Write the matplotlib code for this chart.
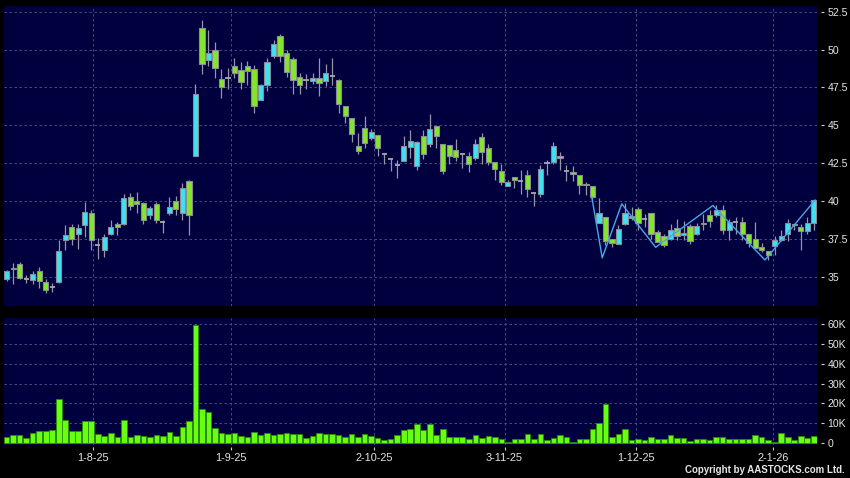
import matplotlib
matplotlib.use("Agg")
import matplotlib.pyplot as plt
import numpy as np

# ---------------- data ----------------
opens = [34.87, 35.50, 35.86, 34.87, 34.80, 35.40, 34.65, 34.32, 34.65, 37.40,
         38.28, 37.84, 38.44, 39.23, 37.07, 36.74, 37.84, 38.50, 38.50, 40.26,
         40.02, 39.89, 39.05, 39.82, 38.61, 39.20, 40.02, 39.23, 41.34, 43.00,
         51.45, 49.34, 50.00, 48.06, 48.13, 48.92, 48.68, 48.94, 48.74, 46.70,
         47.69, 49.56, 50.93, 49.78, 49.38, 48.19, 47.97, 47.91, 48.15, 47.93,
         48.28, 48.02, 46.30, 45.51, 43.61, 44.85, 44.18, 44.34, 43.13, 42.80,
         42.36, 42.64, 43.57, 42.31, 44.27, 43.79, 44.98, 43.79, 43.72, 43.39,
         43.08, 42.97, 42.86, 44.23, 43.52, 42.58, 41.98, 41.01, 41.59, 41.32,
         41.74, 40.53, 40.48, 42.51, 42.58, 42.85, 41.98, 41.92, 41.74, 41.05,
         40.99, 38.57, 38.94, 37.51, 37.18, 38.46, 38.90, 39.47, 38.83, 39.21,
         37.95, 37.66, 37.51, 38.22, 37.73, 38.33, 37.84, 38.47, 39.05, 39.05,
         39.43, 38.11, 38.61, 38.61, 37.84, 37.49, 36.96, 36.70, 37.00, 37.44,
         37.84, 38.40, 38.28, 38.02, 38.55]
highs = [35.46, 35.90, 36.00, 35.13, 35.37, 35.62, 34.87, 34.58, 37.44, 38.39,
         38.46, 38.46, 39.91, 39.38, 37.58, 37.80, 38.72, 38.61, 40.48, 40.53,
         40.62, 39.93, 39.65, 39.93, 38.72, 40.26, 40.31, 41.19, 41.41, 47.75,
         51.98, 51.32, 50.53, 48.74, 48.81, 49.47, 49.19, 49.25, 48.96, 47.75,
         49.47, 50.66, 51.01, 49.96, 49.52, 48.48, 48.37, 48.46, 49.47, 49.08,
         49.47, 48.08, 46.30, 45.51, 44.49, 45.59, 44.78, 44.34, 43.17, 42.80,
         42.69, 44.27, 44.71, 43.96, 44.67, 45.77, 44.98, 43.79, 43.72, 44.12,
         43.08, 43.24, 44.12, 44.49, 43.74, 42.58, 42.47, 41.37, 41.59, 42.03,
         42.03, 40.53, 42.36, 42.73, 43.90, 43.24, 42.36, 42.31, 41.74, 41.26,
         40.99, 40.22, 38.94, 37.51, 38.39, 39.87, 39.60, 39.60, 39.16, 39.21,
         38.06, 37.84, 38.50, 38.83, 38.68, 38.46, 38.55, 39.16, 39.43, 39.71,
         39.71, 38.83, 38.94, 38.94, 37.84, 38.63, 37.22, 36.70, 37.66, 38.06,
         38.83, 38.50, 38.50, 38.94, 40.09]
lows = [34.69, 34.54, 34.87, 34.58, 34.49, 34.27, 33.94, 33.96, 34.58, 36.74,
        37.07, 36.85, 37.62, 36.78, 36.19, 36.30, 37.73, 37.73, 38.39, 39.38,
        39.18, 38.50, 38.83, 38.55, 37.88, 39.05, 39.05, 38.77, 37.78, 43.00,
        48.37, 48.90, 48.15, 46.81, 47.42, 48.15, 47.42, 47.64, 45.81, 46.65,
        47.27, 49.47, 49.19, 48.19, 47.09, 47.05, 47.42, 47.75, 46.92, 47.58,
        47.64, 45.81, 45.15, 43.90, 43.13, 43.52, 44.01, 42.97, 42.47, 41.98,
        41.52, 42.64, 42.86, 42.03, 42.80, 43.57, 43.52, 41.81, 42.47, 42.64,
        42.20, 41.92, 42.73, 42.47, 42.36, 41.37, 41.04, 40.97, 40.88, 40.44,
        40.26, 39.67, 40.26, 41.70, 42.47, 42.03, 41.32, 41.32, 40.44, 40.37,
        40.04, 38.57, 37.07, 36.96, 37.18, 38.39, 38.72, 38.06, 38.28, 37.51,
        37.29, 36.96, 37.40, 37.40, 37.40, 37.14, 37.78, 38.06, 38.28, 38.94,
        37.84, 37.44, 37.80, 37.44, 36.96, 36.85, 36.63, 36.08, 36.41, 37.36,
        37.36, 38.06, 36.74, 37.84, 38.06]
closes = [35.40, 35.60, 34.93, 34.87, 35.15, 34.69, 34.10, 34.32, 36.70, 37.78,
          37.51, 38.22, 39.30, 37.40, 37.07, 37.64, 38.28, 38.28, 40.20, 39.65,
          39.78, 38.72, 39.56, 38.72, 38.61, 39.60, 39.49, 40.88, 39.10, 47.09,
          49.07, 49.80, 48.81, 47.53, 48.13, 48.48, 47.89, 48.57, 46.30, 47.69,
          49.21, 50.40, 49.56, 48.50, 47.97, 47.69, 47.97, 48.13, 47.82, 48.46,
          48.28, 46.43, 45.59, 44.45, 43.30, 43.85, 44.56, 43.52, 43.13, 42.80,
          42.36, 43.61, 43.96, 43.90, 43.13, 44.78, 44.32, 41.98, 42.95, 42.91,
          43.08, 42.47, 43.79, 43.24, 42.58, 42.14, 41.26, 41.26, 41.37, 41.32,
          40.81, 40.53, 42.14, 42.51, 43.66, 42.95, 41.98, 41.76, 41.04, 41.15,
          40.26, 39.23, 37.36, 37.22, 38.17, 39.21, 38.98, 38.55, 38.83, 37.80,
          37.29, 37.07, 38.11, 37.66, 37.88, 37.36, 38.33, 38.53, 38.68, 39.43,
          38.06, 38.61, 38.61, 37.84, 37.22, 36.92, 36.78, 36.41, 37.44, 37.66,
          38.55, 38.46, 38.00, 38.55, 40.04]
volumes_k = [3.0, 4.4, 4.4, 2.7, 5.0, 6.0, 6.2, 6.9, 22.3, 11.7,
             6.2, 6.0, 11.2, 11.2, 4.9, 3.5, 5.2, 3.4, 11.7, 3.2,
             4.2, 3.7, 3.2, 4.0, 3.5, 5.7, 3.7, 8.0, 11.4, 59.5,
             17.1, 15.7, 7.9, 5.2, 4.5, 5.0, 3.7, 3.4, 5.9, 4.2,
             5.0, 4.2, 4.7, 5.0, 4.7, 4.7, 2.5, 3.7, 5.2, 4.9,
             4.9, 4.2, 3.4, 4.5, 3.4, 4.7, 3.9, 2.7, 1.5, 2.3,
             4.4, 6.7, 7.4, 9.9, 6.7, 9.7, 4.2, 7.0, 3.0, 3.0,
             3.0, 2.3, 4.2, 2.7, 3.7, 3.4, 2.0, 0.8, 2.0, 2.3,
             4.5, 2.0, 4.5, 1.7, 2.5, 4.2, 3.0, 0.8, 2.0, 2.0,
             7.2, 10.1, 19.8, 3.4, 4.5, 7.0, 1.7, 2.0, 1.7, 3.4,
             2.0, 2.3, 4.0, 2.8, 2.8, 1.3, 2.3, 2.0, 1.7, 3.0,
             3.4, 2.3, 2.3, 2.3, 2.3, 4.4, 3.4, 1.7, 0.7, 5.4,
             3.0, 1.7, 3.7, 2.5, 3.7]

zigzag_idx = [89.9, 91.5, 94.5, 99.7, 108.5, 116.5, 124.2]
zigzag_price = [40.25, 36.24, 39.81, 36.94, 39.70, 36.10, 40.06]

date_tick_pos = [13.3, 34.4, 56.5, 76.5, 96.7, 117.7]
date_tick_labels = ["1-8-25", "1-9-25", "2-10-25", "3-11-25", "1-12-25", "2-1-26"]
price_ticks = [35, 37.5, 40, 42.5, 45, 47.5, 50, 52.5]
price_tick_labels = ["35", "37.5", "40", "42.5", "45", "47.5", "50", "52.5"]
vol_ticks = [0, 10000, 20000, 30000, 40000, 50000, 60000]
vol_tick_labels = ["0", "10K", "20K", "30K", "40K", "50K", "60K"]

# ---------------- style ----------------
BG_FIG = "#000000"
BG_AX = "#00003f"
CYAN = "#3de2f2"
GREEN = "#84e62a"
VOL_GREEN = "#66ff11"
EDGE = "#8c8c96"
WICK = "#9696a4"
GRID = "#55558c"
TXT = "#e6e6e6"

plt.rcParams["font.family"] = ["Liberation Sans", "DejaVu Sans"]

o = np.array(opens)
h = np.array(highs)
l = np.array(lows)
c = np.array(closes)
v = np.array(volumes_k) * 1000
x = np.arange(len(o))

fig = plt.figure(figsize=(8.5, 4.78), dpi=100, facecolor=BG_FIG)
ax = fig.add_axes([0.0047, 0.3598, 0.9565, 0.6276], facecolor=BG_AX)
axv = fig.add_axes([0.0047, 0.0690, 0.9565, 0.2657], facecolor=BG_AX, sharex=ax)

bw = 0.8
up = c > o
dn = c < o
fl = c == o
ax.vlines(x, l, h, color=WICK, lw=0.9, zorder=2)
ax.bar(x[up], (c - o)[up], bottom=o[up], width=bw, color=CYAN,
       edgecolor=EDGE, linewidth=0.8, zorder=3)
ax.bar(x[dn], (o - c)[dn], bottom=c[dn], width=bw, color=GREEN,
       edgecolor=EDGE, linewidth=0.8, zorder=3)
ax.hlines(c[fl], x[fl] - bw / 2, x[fl] + bw / 2, color="#a8a8b0", lw=1.3, zorder=3)
ax.plot(zigzag_idx, zigzag_price, color="#4aa6e6", lw=1.0, zorder=4)

axv.bar(x, v, width=0.86, color=VOL_GREEN, edgecolor="#2e8a00", linewidth=0.6, zorder=3)

ax.set_xlim(-0.41, 124.5)
ax.set_ylim(33.06, 52.88)
axv.set_ylim(-860, 62900)

for a in (ax, axv):
    for s in a.spines.values():
        s.set_color("none")
    a.yaxis.tick_right()
    a.spines["right"].set_position(("outward", 3))
    a.grid(True, color=GRID, lw=0.6, ls=(0, (3, 3)), zorder=0)
    a.set_axisbelow(True)
    a.tick_params(axis="y", colors="#cfcfcf", labelcolor=TXT, length=2.2,
                  width=0.8, pad=2.2, labelsize=7.6)

ax.set_yticks(price_ticks)
ax.set_yticklabels(price_tick_labels)
axv.set_yticks(vol_ticks)
axv.set_yticklabels(vol_tick_labels)

ax.set_xticks(date_tick_pos)
ax.tick_params(axis="x", length=0, labelbottom=False)
axv.spines["bottom"].set_position(("outward", 1.5))
axv.tick_params(axis="x", colors="#cfcfcf", labelcolor=TXT, length=2.2,
                width=0.8, pad=2.0, labelsize=7.8)
axv.set_xticklabels(date_tick_labels)

fig.text(0.994, 0.006, "Copyright by AASTOCKS.com Ltd.", ha="right", va="bottom",
         color=TXT, fontsize=7.0, fontweight="bold")

fig.savefig("out.png", dpi=100, facecolor=BG_FIG)
